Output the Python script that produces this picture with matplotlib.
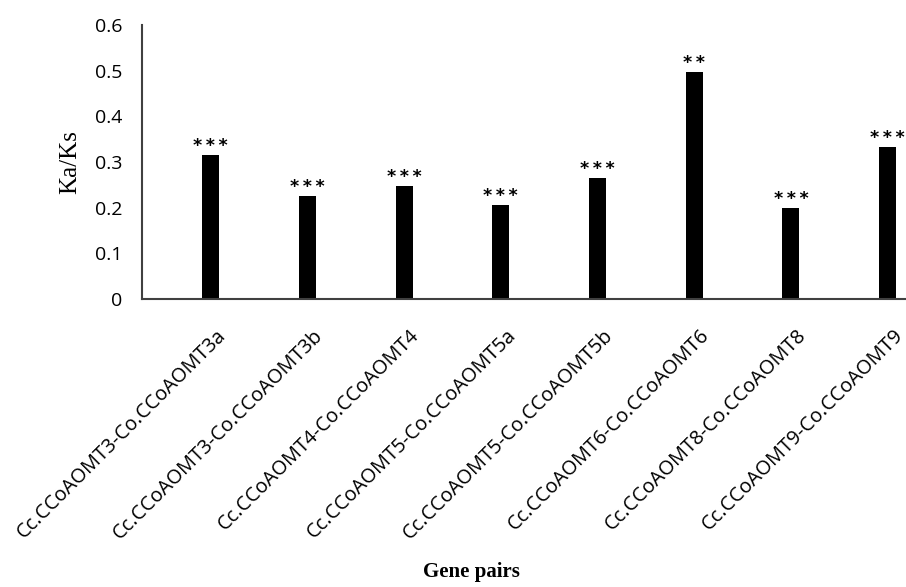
import matplotlib
matplotlib.use('Agg')
import matplotlib.pyplot as plt
import matplotlib.transforms as mtransforms

# Ka/Ks ratios for the CCoAOMT gene pairs
pares = ['Cc.CCoAOMT3-Co.CCoAOMT3a', 'Cc.CCoAOMT3-Co.CCoAOMT3b',
         'Cc.CCoAOMT4-Co.CCoAOMT4', 'Cc.CCoAOMT5-Co.CCoAOMT5a',
         'Cc.CCoAOMT5-Co.CCoAOMT5b', 'Cc.CCoAOMT6-Co.CCoAOMT6',
         'Cc.CCoAOMT8-Co.CCoAOMT8', 'Cc.CCoAOMT9-Co.CCoAOMT9']
ka_ks = [0.315, 0.226, 0.248, 0.206, 0.265, 0.497, 0.200, 0.333]
signif = ['***', '***', '***', '***', '***', '**', '***', '***']

fig = plt.figure(figsize=(9.06, 5.87), dpi=100)
ax = fig.add_axes([0.1567, 0.4906, 0.8433, 0.4668])

x = range(len(pares))
ax.bar(x, ka_ks, width=0.175, color='black')

# asteriscos de significância, separados por espaço fino
for i, (v, s) in enumerate(zip(ka_ks, signif)):
    ax.annotate('\u2009'.join(s), (i, v), xytext=(0, 0), textcoords='offset points',
                ha='center', va='bottom', fontsize=12.5, fontweight='bold')

ax.set_xlim(-0.71, 7.19)
ax.set_ylim(0, 0.6)
ax.set_yticks([0, 0.1, 0.2, 0.3, 0.4, 0.5, 0.6])
ax.set_yticklabels(['0', '0.1', '0.2', '0.3', '0.4', '0.5', '0.6'],
                   fontsize=14, family='Open Sans')
ax.set_xticks(list(x))
ax.set_xticklabels(pares, rotation=45, ha='right', rotation_mode='anchor',
                   fontsize=14.4, family='Open Sans')
ax.tick_params(axis='both', length=0)
ax.tick_params(axis='y', pad=14)
ax.tick_params(axis='x', pad=8)

# desloca os rótulos do eixo x para a direita e para baixo
desloc = mtransforms.ScaledTranslation(4 / 72, -11 / 72, fig.dpi_scale_trans)
for rot in ax.get_xticklabels():
    rot.set_transform(rot.get_transform() + desloc)

for lado in ['top', 'right']:
    ax.spines[lado].set_visible(False)
for lado in ['left', 'bottom']:
    ax.spines[lado].set_color('#404040')
    ax.spines[lado].set_linewidth(1.5)

ax.set_ylabel('Ka/Ks', fontsize=18, family='Liberation Serif', labelpad=10)
fig.text(0.52, 0.025, 'Gene pairs', fontsize=15, fontweight='bold',
         family='Liberation Serif', ha='center', va='center')

fig.savefig('out.png', dpi=100)
